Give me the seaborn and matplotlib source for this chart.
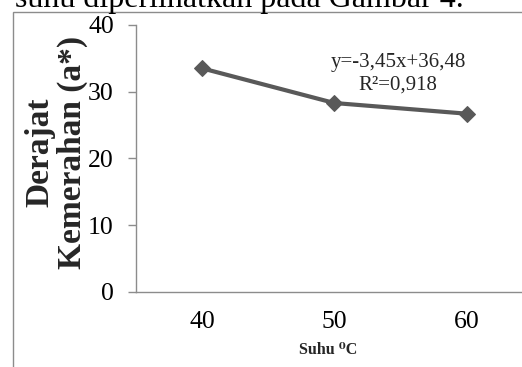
import matplotlib
matplotlib.use("Agg")
import matplotlib.pyplot as plt
import matplotlib.patches as mpatches
import seaborn as sns
import pandas as pd

# ---- data ----
suhu = ["40", "50", "60"]
derajat_kemerahan = [33.5, 28.3, 26.7]
y_ticks = [0, 10, 20, 30, 40]
equation_text = "y=-3,45x+36,48"
r2_text = "R\u00b2=0,918"
y_label = "Derajat\nKemerahan (a*)"
x_label = "Suhu \u2070C"
caption_text = "suhu diperlihatkan pada Gambar 4."

df = pd.DataFrame({"suhu": suhu, "a": derajat_kemerahan})

sns.set_theme(style="white")
plt.rcParams["font.family"] = ["Liberation Serif", "DejaVu Serif"]

W, H = 522, 367
fig = plt.figure(figsize=(W / 100, H / 100), dpi=100)

# axes position (pixel based)
x0, x1 = 136, 532.6
y_top, y_bot = 25, 291.7
ax = fig.add_axes([x0 / W, 1 - y_bot / H, (x1 - x0) / W, (y_bot - y_top) / H])

sns.lineplot(data=df, x="suhu", y="a", ax=ax, color="#595959", linewidth=3.0,
             marker="D", markersize=8.5, markeredgecolor="#595959", sort=False)

ax.set_xlim(-0.5, 2.5)
ax.set_ylim(0, 40)
ax.set_yticks(y_ticks)
ax.set_yticklabels([str(t) for t in y_ticks])
ax.grid(False)

for s in ["top", "right"]:
    ax.spines[s].set_visible(False)
for s in ["left", "bottom"]:
    ax.spines[s].set_color("#8c8c8c")
    ax.spines[s].set_linewidth(1.0)
    ax.spines[s].set_clip_on(False)

ax.tick_params(axis="y", length=6, width=1.0, color="#8c8c8c", direction="out",
               labelsize=18.5, pad=10, left=True, labelcolor="black")
ax.tick_params(axis="x", length=0, labelsize=18.5, pad=14, labelcolor="black")
ax.set_xlabel("")
ax.set_ylabel(y_label, fontsize=24, fontweight="bold", linespacing=1.05,
              va="center", ha="center", multialignment="center")
ax.yaxis.set_label_coords((56 - x0) / (x1 - x0), (y_bot - 152) / (y_bot - y_top))

# x label
fig.text(328 / W, 1 - 350 / H, x_label, fontsize=11.5, fontweight="bold",
         ha="center", va="center")

# equation text
ax.text((398 - x0) / (x1 - x0), (y_bot - 63) / (y_bot - y_top), equation_text,
        transform=ax.transAxes, fontsize=15, ha="center", va="center")
ax.text((398 - x0) / (x1 - x0), (y_bot - 85) / (y_bot - y_top), r2_text,
        transform=ax.transAxes, fontsize=15, ha="center", va="center")

# frame of the figure box (document screenshot)
frame = mpatches.Rectangle((12.7 / W, -0.5), 2.0, 0.5 + (1 - 12.3 / H),
                           transform=fig.transFigure, fill=False,
                           edgecolor="#8c8c8c", linewidth=1.0, clip_on=False)
fig.add_artist(frame)

# cut-off caption text above
fig.text(15 / W, 1 - 6.7 / H, caption_text, fontsize=23, ha="left",
         va="baseline", color="black")

fig.savefig("out.png", dpi=100)
